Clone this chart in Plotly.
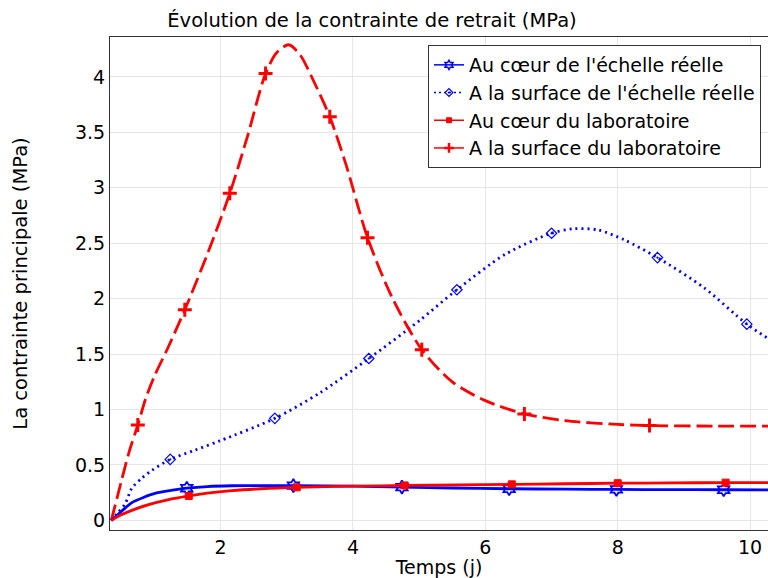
import plotly.graph_objects as go

# ---- data ----
# Red dashed: A la surface du laboratoire
t_lab_surf = [0.35, 0.5, 0.62, 0.75, 0.87, 1.0, 1.2, 1.46, 1.8, 2.14, 2.4, 2.68, 2.85, 3.03, 3.2, 3.4, 3.65, 3.9, 4.22, 4.6, 5.04, 5.5, 6.0, 6.59, 7.2, 8.0, 8.48, 9.5, 10.3]
y_lab_surf = [0.0, 0.35, 0.62, 0.86, 1.1, 1.3, 1.55, 1.9, 2.4, 2.95, 3.45, 4.03, 4.22, 4.29, 4.2, 3.97, 3.64, 3.2, 2.55, 2.0, 1.54, 1.25, 1.08, 0.96, 0.9, 0.865, 0.855, 0.85, 0.85]
tm_lab_surf = [0.75, 1.46, 2.14, 2.68, 3.65, 4.22, 5.04, 6.59, 8.48]
ym_lab_surf = [0.86, 1.9, 2.95, 4.03, 3.64, 2.55, 1.54, 0.96, 0.855]

# Blue dotted: A la surface de l'échelle réelle
t_ech_surf = [0.35, 0.45, 0.56, 0.66, 0.81, 0.96, 1.24, 1.6, 2.0, 2.82, 3.5, 4.24, 5.0, 5.57, 6.3, 7.0, 7.33, 7.7, 8.1, 8.6, 9.3, 9.95, 10.3]
y_ech_surf = [0.0, 0.07, 0.15, 0.29, 0.38, 0.45, 0.55, 0.63, 0.72, 0.92, 1.15, 1.46, 1.8, 2.08, 2.4, 2.59, 2.63, 2.62, 2.53, 2.37, 2.1, 1.77, 1.63]
tm_ech_surf = [1.24, 2.82, 4.24, 5.57, 7.0, 8.6, 9.95]
ym_ech_surf = [0.55, 0.92, 1.46, 2.08, 2.59, 2.37, 1.77]

# Blue solid: Au cœur de l'échelle réelle
t_ech_coeur = [0.35, 0.5, 0.66, 0.85, 1.02, 1.25, 1.49, 1.8, 2.17, 2.6, 3.1, 4.0, 4.74, 5.5, 6.36, 7.2, 7.98, 8.8, 9.6, 10.3]
y_ech_coeur = [0.0, 0.08, 0.16, 0.21, 0.245, 0.27, 0.29, 0.305, 0.312, 0.314, 0.313, 0.308, 0.3, 0.292, 0.285, 0.281, 0.279, 0.277, 0.276, 0.275]
tm_ech_coeur = [1.49, 3.1, 4.74, 6.36, 7.98, 9.6]
ym_ech_coeur = [0.29, 0.313, 0.3, 0.285, 0.279, 0.276]

# Red solid: Au cœur du laboratoire
t_lab_coeur = [0.35, 0.5, 0.66, 0.9, 1.2, 1.52, 1.8, 2.17, 2.6, 3.15, 4.0, 4.78, 5.6, 6.4, 7.2, 8.0, 8.8, 9.63, 10.3]
y_lab_coeur = [0.0, 0.05, 0.09, 0.14, 0.185, 0.22, 0.245, 0.268, 0.285, 0.298, 0.308, 0.315, 0.32, 0.325, 0.33, 0.335, 0.338, 0.34, 0.341]
tm_lab_coeur = [1.52, 3.15, 4.78, 6.4, 8.0, 9.63]
ym_lab_coeur = [0.22, 0.298, 0.315, 0.325, 0.335, 0.34]

x_ticks = [2, 4, 6, 8, 10]
y_ticks = [0, 0.5, 1, 1.5, 2, 2.5, 3, 3.5, 4]
y_tick_text = ["0", "0.5", "1", "1.5", "2", "2.5", "3", "3.5", "4"]

title = "Évolution de la contrainte de retrait (MPa)"
x_title = "Temps (j)"
y_title = "La contrainte principale (MPa)"

BLUE = "rgb(0,0,255)"
RED = "rgb(255,0,0)"
FONT = "DejaVu Sans"
FS = 19
FST = 19.5

series = [
    ("Au cœur de l'échelle réelle", t_ech_coeur, y_ech_coeur, tm_ech_coeur, ym_ech_coeur,
     BLUE, "solid", "solid", dict(symbol="hexagram-open", size=10, color=BLUE, line=dict(color=BLUE, width=1.8)),
     dict(symbol="hexagram-open", size=7, color=BLUE, line=dict(color=BLUE, width=1.5))),
    ("A la surface de l'échelle réelle", t_ech_surf, y_ech_surf, tm_ech_surf, ym_ech_surf,
     BLUE, "2px,4px", "2px,3px", dict(symbol="diamond-open-dot", size=8, color=BLUE, line=dict(color=BLUE, width=1.2)),
     dict(symbol="diamond-open-dot", size=6, color=BLUE, line=dict(color=BLUE, width=1.2))),
    ("Au cœur du laboratoire", t_lab_coeur, y_lab_coeur, tm_lab_coeur, ym_lab_coeur,
     RED, "solid", "solid", dict(symbol="square", size=7, color=RED, line=dict(color=RED, width=1)),
     dict(symbol="square", size=5, color=RED, line=dict(color=RED, width=1))),
    ("A la surface du laboratoire", t_lab_surf, y_lab_surf, tm_lab_surf, ym_lab_surf,
     RED, "16px,6px", "solid", dict(symbol="cross-thin-open", size=10, color=RED, line=dict(color=RED, width=3)),
     dict(symbol="cross-thin-open", size=7, color=RED, line=dict(color=RED, width=2.5))),
]

fig = go.Figure()
# draw order: blue dotted, red dashed, blue solid, red solid
for idx in [1, 3, 0, 2]:
    name, t, y, tm, ym, col, dash, ldash, mk, lmk = series[idx]
    fig.add_trace(go.Scatter(x=t, y=y, mode="lines", showlegend=False,
                             line=dict(color=col, width=2.8, dash=dash, shape="spline", smoothing=0.8),
                             hoverinfo="skip"))
    fig.add_trace(go.Scatter(x=tm, y=ym, mode="markers", showlegend=False, marker=mk))

for name, t, y, tm, ym, col, dash, ldash, mk, lmk in series:
    fig.add_trace(go.Scatter(x=[None], y=[None], mode="lines+markers", name=name,
                             line=dict(color=col, width=1.5, dash=ldash),
                             marker=lmk))

fig.update_layout(
    width=768, height=578,
    margin=dict(l=110, r=0, t=37, b=48),
    paper_bgcolor="white", plot_bgcolor="white",
    font=dict(family=FONT, size=FS, color="black"),
    title=dict(text=title, x=372 / 768, xanchor="center", y=1 - 20 / 578, yanchor="middle",
               font=dict(family=FONT, size=FST, color="black")),
    legend=dict(x=(428 - 110) / 658, y=1 - (45 - 37) / 493, xanchor="left", yanchor="top",
                bgcolor="white", bordercolor="#333333", borderwidth=1,
                font=dict(family=FONT, size=FS, color="black"),
                itemsizing="trace", tracegroupgap=0, itemwidth=30),
    xaxis=dict(range=[0.33, 10.27], tickvals=x_ticks, showgrid=True, gridcolor="#e6e6e6", gridwidth=1,
               zeroline=False, showline=True, linecolor="#333333", linewidth=1, mirror=True,
               ticks="", tickfont=dict(size=FS), title=dict(text=x_title, font=dict(size=FS), standoff=0)),
    yaxis=dict(range=[-0.087, 4.36], tickvals=y_ticks, ticktext=y_tick_text, showgrid=True,
               gridcolor="#e6e6e6", gridwidth=1, zeroline=False, showline=True, linecolor="#333333",
               linewidth=1, mirror=True, ticks="", tickfont=dict(size=FS),
               title=dict(text=y_title, font=dict(size=FST), standoff=42)),
)

fig.write_html("out.html")
